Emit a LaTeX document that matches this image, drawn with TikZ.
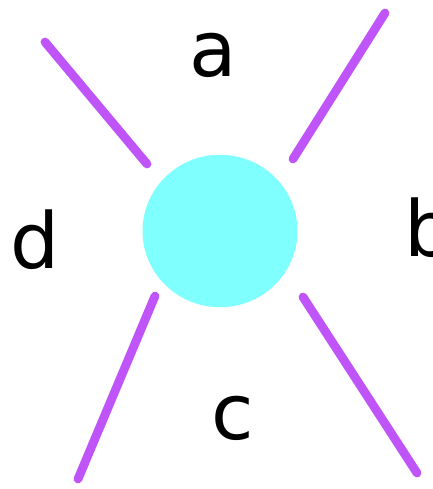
\documentclass[tikz,border=0pt]{standalone}
\usepackage{fontspec}
\setsansfont{DejaVu Sans}
\usetikzlibrary{shapes.geometric}
\definecolor{leg}{HTML}{BF55F8}
\definecolor{blobfill}{HTML}{80FFFF}
\tikzset{
  blob/.style ={ellipse, fill=blobfill, draw=none, minimum width=3.1cm, minimum height=3.05cm, inner sep=0pt},
  leg/.style  ={draw=leg, line width=5pt, line cap=round},
  lbl/.style  ={font=\sffamily\fontsize{44}{44}\selectfont, inner sep=0pt},
}
\begin{document}
\begin{tikzpicture}[x=0.02cm,y=-0.02cm]
    \useasboundingbox (0,0) rectangle (432,489);
    \node[blob] (core) at (220,231) {};

    \coordinate (tlout) at (45,42);
    \coordinate (tlin)  at (147,164);
    \coordinate (trout) at (385,13);
    \coordinate (trin)  at (293,159);
    \coordinate (blout) at (78,479);
    \coordinate (blin)  at (155,296);
    \coordinate (brout) at (417,473);
    \coordinate (brin)  at (303,297);

    \draw[leg] (tlout) -- (tlin);
    \draw[leg] (trout) -- (trin);
    \draw[leg] (blout) -- (blin);
    \draw[leg] (brout) -- (brin);

    \node[lbl] (la) at (213,55) {a};
    \node[lbl,anchor=west] (lb) at (404,228) {b};
    \node[lbl] (lc) at (233,418) {c};
    \node[lbl] (ld) at (35,240) {d};
  \end{tikzpicture}
\end{document}
